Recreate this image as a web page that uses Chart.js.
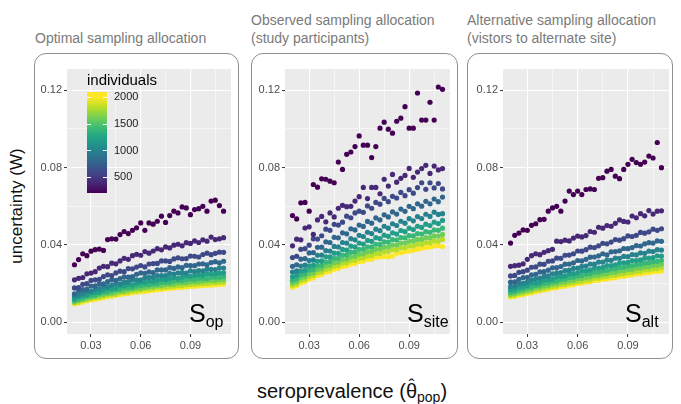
<!DOCTYPE html>
<html>
<head>
<meta charset="utf-8">
<script src="https://cdn.jsdelivr.net/npm/chart.js@4"></script>
<style>
  body { margin: 0; background: #fff; }
  #wrap { position: relative; width: 681px; height: 404px; background: #fff; font-family: "Liberation Sans", Arial, sans-serif; overflow: hidden; }
  .box { position: absolute; border: 1.5px solid #8f8f8f; border-radius: 12px; box-sizing: border-box; }
  .ptitle { position: absolute; font-size: 14px; line-height: 18px; color: #7a7a7a; white-space: nowrap; }
  canvas { position: absolute; }
</style>
</head>
<body>
<div id="wrap">
  <div class="ptitle" style="left:35px; top:29px;">Optimal sampling allocation</div>
  <div class="ptitle" style="left:251px; top:11px;">Observed sampling allocation<br>(study participants)</div>
  <div class="ptitle" style="left:467px; top:11px;">Alternative sampling allocation<br>(vistors to alternate site)</div>

  <div class="box" style="left:34px; top:53px; width:205px; height:306px;"></div>
  <div class="box" style="left:251px; top:53px; width:207px; height:306px;"></div>
  <div class="box" style="left:467px; top:53px; width:206px; height:306px;"></div>

  <canvas id="c1" width="205" height="306" style="left:34px; top:53px;"></canvas>
  <canvas id="c2" width="207" height="306" style="left:251px; top:53px;"></canvas>
  <canvas id="c3" width="206" height="306" style="left:467px; top:53px;"></canvas>

  <div style="position:absolute; left:17px; top:206px; transform:translate(-50%,-50%) rotate(-90deg); font-size:17px; white-space:nowrap; color:#111;">uncertainty (W)</div>
  <div style="position:absolute; left:352px; top:380px; transform:translateX(-50%); font-size:20px; line-height:22px; white-space:nowrap; color:#111;">seroprevalence (<span style="position:relative; display:inline-block;">θ<span style="position:absolute; left:50%; top:-5px; transform:translateX(-50%); font-size:17px;">ˆ</span></span><span style="font-size:14px; position:relative; top:4px;">pop</span>)</div>
</div>

<script>
// seroprevalence grid shared by every series
const xs = [0.02, 0.0225, 0.025, 0.0275, 0.03, 0.0325, 0.035, 0.0375, 0.04, 0.0425,
  0.045, 0.0475, 0.05, 0.0525, 0.055, 0.0575, 0.06, 0.0625, 0.065, 0.0675,
  0.07, 0.0725, 0.075, 0.0775, 0.08, 0.0825, 0.085, 0.0875, 0.09, 0.0925,
  0.095, 0.0975, 0.1, 0.1025, 0.105, 0.1075, 0.11];

const individuals = [200, 400, 600, 800, 1000, 1200, 1400, 1600, 1800, 2000];

// Optimal sampling allocation (S_op)
const op200 = [0.0298, 0.0325, 0.0355, 0.0345, 0.0368, 0.0376, 0.0379, 0.0372, 0.0428, 0.0432, 0.0431, 0.0454, 0.0470, 0.0459, 0.0476, 0.0489, 0.0514, 0.0476, 0.0514, 0.0508, 0.0523, 0.0549, 0.0517, 0.0552, 0.0575, 0.0566, 0.0597, 0.0592, 0.0557, 0.0583, 0.0588, 0.0600, 0.0575, 0.0627, 0.0632, 0.0604, 0.0575];
const op400 = [0.0220, 0.0228, 0.0232, 0.0251, 0.0255, 0.0262, 0.0281, 0.0290, 0.0288, 0.0306, 0.0303, 0.0318, 0.0331, 0.0326, 0.0345, 0.0352, 0.0347, 0.0366, 0.0358, 0.0369, 0.0381, 0.0375, 0.0390, 0.0385, 0.0399, 0.0404, 0.0396, 0.0412, 0.0408, 0.0421, 0.0413, 0.0427, 0.0420, 0.0441, 0.0428, 0.0432, 0.0438];
const op600 = [0.0178, 0.0180, 0.0197, 0.0200, 0.0217, 0.0220, 0.0223, 0.0237, 0.0246, 0.0242, 0.0256, 0.0265, 0.0262, 0.0278, 0.0277, 0.0286, 0.0294, 0.0287, 0.0302, 0.0304, 0.0305, 0.0318, 0.0318, 0.0315, 0.0328, 0.0334, 0.0329, 0.0330, 0.0343, 0.0342, 0.0338, 0.0351, 0.0358, 0.0350, 0.0357, 0.0363, 0.0362];
const op800 = [0.0148, 0.0163, 0.0169, 0.0172, 0.0188, 0.0189, 0.0200, 0.0199, 0.0211, 0.0221, 0.0218, 0.0227, 0.0236, 0.0234, 0.0237, 0.0249, 0.0256, 0.0254, 0.0261, 0.0258, 0.0271, 0.0271, 0.0271, 0.0283, 0.0279, 0.0287, 0.0283, 0.0295, 0.0294, 0.0293, 0.0302, 0.0303, 0.0298, 0.0309, 0.0314, 0.0308, 0.0316];
const op1000 = [0.0137, 0.0140, 0.0151, 0.0160, 0.0160, 0.0172, 0.0175, 0.0186, 0.0185, 0.0193, 0.0201, 0.0199, 0.0209, 0.0210, 0.0220, 0.0220, 0.0220, 0.0231, 0.0233, 0.0233, 0.0242, 0.0242, 0.0242, 0.0253, 0.0250, 0.0256, 0.0258, 0.0255, 0.0266, 0.0263, 0.0268, 0.0266, 0.0275, 0.0274, 0.0273, 0.0282, 0.0281];
const op1200 = [0.0121, 0.0133, 0.0139, 0.0141, 0.0153, 0.0156, 0.0157, 0.0168, 0.0174, 0.0174, 0.0178, 0.0188, 0.0189, 0.0196, 0.0194, 0.0202, 0.0208, 0.0207, 0.0214, 0.0212, 0.0218, 0.0224, 0.0221, 0.0228, 0.0232, 0.0228, 0.0235, 0.0240, 0.0238, 0.0243, 0.0246, 0.0243, 0.0251, 0.0250, 0.0250, 0.0256, 0.0256];
const op1400 = [0.0115, 0.0120, 0.0126, 0.0135, 0.0139, 0.0142, 0.0151, 0.0156, 0.0157, 0.0164, 0.0169, 0.0170, 0.0178, 0.0179, 0.0180, 0.0188, 0.0190, 0.0195, 0.0194, 0.0200, 0.0199, 0.0207, 0.0208, 0.0208, 0.0215, 0.0216, 0.0215, 0.0220, 0.0224, 0.0222, 0.0227, 0.0228, 0.0227, 0.0234, 0.0234, 0.0233, 0.0237];
const op1600 = [0.0106, 0.0115, 0.0118, 0.0126, 0.0130, 0.0134, 0.0142, 0.0144, 0.0150, 0.0151, 0.0157, 0.0162, 0.0162, 0.0169, 0.0172, 0.0177, 0.0176, 0.0181, 0.0185, 0.0185, 0.0191, 0.0191, 0.0196, 0.0197, 0.0198, 0.0204, 0.0204, 0.0204, 0.0209, 0.0210, 0.0210, 0.0215, 0.0216, 0.0218, 0.0217, 0.0221, 0.0222];
const op1800 = [0.0101, 0.0105, 0.0114, 0.0117, 0.0123, 0.0129, 0.0130, 0.0136, 0.0141, 0.0143, 0.0146, 0.0153, 0.0155, 0.0157, 0.0163, 0.0163, 0.0168, 0.0172, 0.0172, 0.0176, 0.0180, 0.0179, 0.0183, 0.0186, 0.0187, 0.0190, 0.0190, 0.0195, 0.0196, 0.0197, 0.0200, 0.0201, 0.0201, 0.0205, 0.0205, 0.0208, 0.0208];
const op2000 = [0.0096, 0.0100, 0.0105, 0.0112, 0.0116, 0.0119, 0.0125, 0.0128, 0.0133, 0.0135, 0.0140, 0.0143, 0.0147, 0.0148, 0.0153, 0.0156, 0.0158, 0.0160, 0.0164, 0.0166, 0.0169, 0.0170, 0.0174, 0.0175, 0.0178, 0.0180, 0.0180, 0.0183, 0.0186, 0.0186, 0.0189, 0.0190, 0.0192, 0.0192, 0.0195, 0.0196, 0.0198];

// Observed sampling allocation (S_site)
const site200 = [0.0552, 0.0535, 0.0618, 0.0620, 0.0575, 0.0713, 0.0699, 0.0742, 0.0740, 0.0730, 0.0722, 0.0829, 0.0791, 0.0869, 0.0881, 0.0909, 0.0964, 0.0916, 0.0916, 0.0852, 0.0909, 0.1004, 0.1035, 0.0999, 0.0978, 0.1040, 0.1056, 0.1115, 0.1004, 0.1004, 0.1186, 0.1046, 0.1046, 0.1138, 0.1046, 0.1217, 0.1205];
const site400 = [0.0396, 0.0430, 0.0427, 0.0488, 0.0494, 0.0455, 0.0530, 0.0548, 0.0520, 0.0566, 0.0545, 0.0590, 0.0605, 0.0598, 0.0600, 0.0627, 0.0650, 0.0698, 0.0640, 0.0698, 0.0698, 0.0665, 0.0740, 0.0705, 0.0765, 0.0725, 0.0745, 0.0760, 0.0796, 0.0750, 0.0777, 0.0795, 0.0812, 0.0770, 0.0808, 0.0788, 0.0795];
const site600 = [0.0335, 0.0342, 0.0378, 0.0381, 0.0399, 0.0432, 0.0431, 0.0448, 0.0482, 0.0476, 0.0507, 0.0503, 0.0518, 0.0549, 0.0541, 0.0566, 0.0575, 0.0569, 0.0602, 0.0590, 0.0620, 0.0611, 0.0641, 0.0624, 0.0652, 0.0643, 0.0672, 0.0655, 0.0686, 0.0668, 0.0697, 0.0722, 0.0688, 0.0722, 0.0695, 0.0718, 0.0690];
const site800 = [0.0290, 0.0298, 0.0327, 0.0330, 0.0359, 0.0361, 0.0388, 0.0389, 0.0416, 0.0413, 0.0440, 0.0437, 0.0463, 0.0458, 0.0484, 0.0478, 0.0503, 0.0496, 0.0522, 0.0513, 0.0540, 0.0530, 0.0556, 0.0545, 0.0571, 0.0560, 0.0586, 0.0574, 0.0600, 0.0588, 0.0613, 0.0601, 0.0626, 0.0613, 0.0638, 0.0624, 0.0648];
const site1000 = [0.0260, 0.0266, 0.0291, 0.0296, 0.0320, 0.0323, 0.0347, 0.0348, 0.0371, 0.0369, 0.0393, 0.0390, 0.0413, 0.0410, 0.0433, 0.0427, 0.0450, 0.0444, 0.0466, 0.0459, 0.0482, 0.0474, 0.0497, 0.0487, 0.0510, 0.0501, 0.0523, 0.0513, 0.0536, 0.0525, 0.0547, 0.0537, 0.0559, 0.0548, 0.0570, 0.0558, 0.0562];
const site1200 = [0.0236, 0.0244, 0.0265, 0.0270, 0.0292, 0.0296, 0.0316, 0.0318, 0.0339, 0.0339, 0.0358, 0.0357, 0.0377, 0.0374, 0.0394, 0.0390, 0.0410, 0.0405, 0.0424, 0.0419, 0.0438, 0.0433, 0.0451, 0.0445, 0.0463, 0.0457, 0.0475, 0.0469, 0.0487, 0.0480, 0.0497, 0.0491, 0.0508, 0.0501, 0.0518, 0.0511, 0.0527];
const site1400 = [0.0218, 0.0226, 0.0246, 0.0251, 0.0270, 0.0274, 0.0292, 0.0295, 0.0312, 0.0315, 0.0331, 0.0332, 0.0348, 0.0349, 0.0363, 0.0364, 0.0378, 0.0378, 0.0391, 0.0391, 0.0404, 0.0403, 0.0416, 0.0415, 0.0428, 0.0426, 0.0439, 0.0437, 0.0449, 0.0447, 0.0459, 0.0457, 0.0469, 0.0466, 0.0478, 0.0476, 0.0487];
const site1600 = [0.0204, 0.0212, 0.0230, 0.0236, 0.0252, 0.0257, 0.0273, 0.0277, 0.0292, 0.0295, 0.0309, 0.0312, 0.0325, 0.0327, 0.0339, 0.0341, 0.0353, 0.0354, 0.0366, 0.0367, 0.0378, 0.0379, 0.0389, 0.0390, 0.0400, 0.0400, 0.0410, 0.0410, 0.0420, 0.0420, 0.0429, 0.0429, 0.0438, 0.0438, 0.0447, 0.0446, 0.0455];
const site1800 = [0.0192, 0.0199, 0.0216, 0.0222, 0.0237, 0.0242, 0.0257, 0.0261, 0.0274, 0.0278, 0.0291, 0.0293, 0.0306, 0.0308, 0.0319, 0.0321, 0.0332, 0.0333, 0.0344, 0.0345, 0.0356, 0.0356, 0.0366, 0.0366, 0.0376, 0.0376, 0.0386, 0.0386, 0.0395, 0.0395, 0.0404, 0.0403, 0.0413, 0.0412, 0.0421, 0.0420, 0.0429];
const site2000 = [0.0182, 0.0189, 0.0204, 0.0210, 0.0224, 0.0230, 0.0243, 0.0247, 0.0260, 0.0263, 0.0275, 0.0278, 0.0289, 0.0292, 0.0302, 0.0305, 0.0315, 0.0316, 0.0326, 0.0327, 0.0337, 0.0338, 0.0341, 0.0340, 0.0343, 0.0357, 0.0360, 0.0366, 0.0369, 0.0374, 0.0378, 0.0383, 0.0387, 0.0390, 0.0394, 0.0398, 0.0392];

// Alternative sampling allocation (S_alt)
const alt200 = [0.0410, 0.0450, 0.0462, 0.0478, 0.0476, 0.0502, 0.0510, 0.0531, 0.0533, 0.0575, 0.0592, 0.0600, 0.0575, 0.0627, 0.0679, 0.0661, 0.0679, 0.0661, 0.0687, 0.0690, 0.0687, 0.0745, 0.0748, 0.0782, 0.0791, 0.0756, 0.0743, 0.0791, 0.0817, 0.0843, 0.0826, 0.0817, 0.0829, 0.0860, 0.0850, 0.0930, 0.0800];
const alt400 = [0.0290, 0.0293, 0.0296, 0.0303, 0.0326, 0.0345, 0.0355, 0.0350, 0.0362, 0.0371, 0.0378, 0.0420, 0.0418, 0.0425, 0.0421, 0.0436, 0.0446, 0.0442, 0.0449, 0.0470, 0.0466, 0.0492, 0.0487, 0.0501, 0.0497, 0.0512, 0.0530, 0.0522, 0.0519, 0.0550, 0.0541, 0.0562, 0.0551, 0.0578, 0.0560, 0.0575, 0.0577];
const alt600 = [0.0240, 0.0243, 0.0259, 0.0262, 0.0270, 0.0285, 0.0287, 0.0301, 0.0300, 0.0316, 0.0318, 0.0332, 0.0331, 0.0347, 0.0348, 0.0355, 0.0369, 0.0368, 0.0376, 0.0389, 0.0387, 0.0396, 0.0409, 0.0406, 0.0415, 0.0428, 0.0425, 0.0433, 0.0447, 0.0444, 0.0450, 0.0465, 0.0461, 0.0468, 0.0482, 0.0476, 0.0484];
const alt800 = [0.0208, 0.0210, 0.0223, 0.0232, 0.0233, 0.0246, 0.0249, 0.0261, 0.0262, 0.0270, 0.0282, 0.0283, 0.0289, 0.0301, 0.0302, 0.0308, 0.0320, 0.0318, 0.0326, 0.0337, 0.0338, 0.0344, 0.0355, 0.0349, 0.0365, 0.0366, 0.0370, 0.0382, 0.0381, 0.0387, 0.0397, 0.0395, 0.0406, 0.0412, 0.0410, 0.0421, 0.0419];
const alt1000 = [0.0185, 0.0188, 0.0201, 0.0203, 0.0210, 0.0220, 0.0225, 0.0229, 0.0239, 0.0240, 0.0251, 0.0256, 0.0258, 0.0268, 0.0270, 0.0279, 0.0281, 0.0290, 0.0291, 0.0302, 0.0301, 0.0312, 0.0312, 0.0322, 0.0321, 0.0332, 0.0331, 0.0341, 0.0340, 0.0351, 0.0349, 0.0359, 0.0357, 0.0368, 0.0366, 0.0376, 0.0374];
const alt1200 = [0.0169, 0.0172, 0.0183, 0.0185, 0.0191, 0.0202, 0.0203, 0.0208, 0.0219, 0.0221, 0.0225, 0.0235, 0.0236, 0.0241, 0.0251, 0.0252, 0.0256, 0.0266, 0.0267, 0.0271, 0.0280, 0.0281, 0.0284, 0.0294, 0.0294, 0.0298, 0.0307, 0.0308, 0.0311, 0.0320, 0.0320, 0.0323, 0.0332, 0.0332, 0.0335, 0.0344, 0.0343];
const alt1400 = [0.0156, 0.0160, 0.0169, 0.0172, 0.0180, 0.0183, 0.0191, 0.0194, 0.0202, 0.0204, 0.0212, 0.0214, 0.0222, 0.0224, 0.0232, 0.0233, 0.0241, 0.0242, 0.0250, 0.0252, 0.0259, 0.0260, 0.0267, 0.0269, 0.0276, 0.0277, 0.0284, 0.0285, 0.0292, 0.0293, 0.0299, 0.0300, 0.0307, 0.0308, 0.0314, 0.0315, 0.0321];
const alt1600 = [0.0146, 0.0150, 0.0158, 0.0161, 0.0168, 0.0171, 0.0179, 0.0181, 0.0188, 0.0191, 0.0198, 0.0200, 0.0208, 0.0210, 0.0216, 0.0218, 0.0226, 0.0227, 0.0233, 0.0235, 0.0243, 0.0244, 0.0250, 0.0251, 0.0258, 0.0259, 0.0266, 0.0267, 0.0273, 0.0274, 0.0281, 0.0281, 0.0287, 0.0288, 0.0294, 0.0295, 0.0301];
const alt1800 = [0.0138, 0.0141, 0.0149, 0.0151, 0.0158, 0.0161, 0.0169, 0.0170, 0.0177, 0.0180, 0.0186, 0.0188, 0.0196, 0.0197, 0.0203, 0.0205, 0.0212, 0.0213, 0.0219, 0.0221, 0.0228, 0.0229, 0.0235, 0.0236, 0.0243, 0.0244, 0.0249, 0.0251, 0.0257, 0.0258, 0.0263, 0.0264, 0.0271, 0.0271, 0.0276, 0.0277, 0.0283];
const alt2000 = [0.0131, 0.0134, 0.0141, 0.0143, 0.0150, 0.0153, 0.0159, 0.0162, 0.0168, 0.0171, 0.0177, 0.0179, 0.0185, 0.0187, 0.0193, 0.0195, 0.0201, 0.0203, 0.0208, 0.0210, 0.0216, 0.0217, 0.0223, 0.0224, 0.0230, 0.0231, 0.0237, 0.0238, 0.0243, 0.0245, 0.0250, 0.0251, 0.0256, 0.0257, 0.0262, 0.0263, 0.0266];

const yTicks = [0, 0.02, 0.04, 0.06, 0.08, 0.10, 0.12];
const xTicks = [0.03, 0.045, 0.06, 0.075, 0.09, 0.105];
const legendTicks = [500, 1000, 1500, 2000];

// viridis stops
const viridisStops = ['#440154', '#482475', '#414487', '#355f8d', '#2a788e', '#21918c',
  '#22a884', '#44bf70', '#7ad151', '#bddf26', '#fde725'];

function hexRgb(h) {
  return [parseInt(h.slice(1, 3), 16), parseInt(h.slice(3, 5), 16), parseInt(h.slice(5, 7), 16)];
}
function viridis(t) {
  t = Math.max(0, Math.min(1, t));
  const p = t * (viridisStops.length - 1);
  const i = Math.min(Math.floor(p), viridisStops.length - 2);
  const f = p - i;
  const a = hexRgb(viridisStops[i]), b = hexRgb(viridisStops[i + 1]);
  const c = a.map((v, k) => Math.round(v + (b[k] - v) * f));
  return 'rgb(' + c.join(',') + ')';
}

const nMin = 200, nMax = 2000, barMax = 2100;
const isMajor = (v, step) => Math.abs(v / step - Math.round(v / step)) < 1e-6;

const decor = {
  id: 'decor',
  beforeDraw(chart, args, opts) {
    const { ctx, chartArea: a } = chart;
    ctx.save();
    ctx.fillStyle = '#ebebeb';
    ctx.fillRect(a.left, a.top, a.right - a.left, a.bottom - a.top);
    ctx.restore();
  },
  afterDatasetsDraw(chart, args, opts) {
    const { ctx, chartArea: a } = chart;
    ctx.save();
    // S label
    ctx.fillStyle = '#000';
    ctx.textBaseline = 'alphabetic';
    ctx.font = '25px "Liberation Sans", Arial, sans-serif';
    const sx = a.left + 122;
    ctx.fillText('S', sx, a.bottom - 12);
    const sw = ctx.measureText('S').width;
    ctx.font = '16px "Liberation Sans", Arial, sans-serif';
    ctx.fillText(opts.sub, sx + sw, a.bottom - 7);

    if (opts.legend) {
      const bx = a.left + 20, by = a.top + 23, bw = 20, bh = 101;
      const valY = v => by + bh - (v - nMin) / (barMax - nMin) * bh;
      const g = ctx.createLinearGradient(0, by + bh, 0, by);
      for (let k = 0; k <= 20; k++) {
        const v = nMin + (barMax - nMin) * k / 20;
        g.addColorStop(k / 20, viridis((v - nMin) / (nMax - nMin)));
      }
      ctx.fillStyle = g;
      ctx.fillRect(bx, by, bw, bh);
      ctx.strokeStyle = '#fff';
      ctx.lineWidth = 1;
      ctx.font = '11px "Liberation Sans", Arial, sans-serif';
      ctx.textBaseline = 'middle';
      ctx.textAlign = 'left';
      legendTicks.forEach(v => {
        const y = Math.round(valY(v)) + 0.5;
        ctx.beginPath();
        ctx.moveTo(bx, y); ctx.lineTo(bx + 4, y);
        ctx.moveTo(bx + bw - 4, y); ctx.lineTo(bx + bw, y);
        ctx.stroke();
        ctx.fillStyle = '#1a1a1a';
        ctx.fillText(String(v), bx + bw + 7, valY(v));
      });
      ctx.fillStyle = '#000';
      ctx.textBaseline = 'alphabetic';
      ctx.font = '15px "Liberation Sans", Arial, sans-serif';
      ctx.fillText('individuals', bx, a.top + 16);
    }
    ctx.restore();
  }
};

function makePanel(id, series, sub, axisW, padR, legend) {
  const datasets = individuals.map((n, i) => ({
    label: String(n),
    data: xs.map((x, j) => ({ x: x, y: series[i][j] })),
    backgroundColor: viridis((n - nMin) / (nMax - nMin)),
    borderWidth: 0,
    pointRadius: 2.6,
    pointHoverRadius: 2.6
  }));

  const tickFont = { family: '"Liberation Sans", Arial, sans-serif', size: 11 };

  return new Chart(document.getElementById(id), {
    type: 'scatter',
    data: { datasets: datasets },
    options: {
      responsive: false,
      animation: false,
      devicePixelRatio: 1,
      events: [],
      layout: { padding: { left: 0, right: padR, top: 16, bottom: 0 } },
      plugins: {
        legend: { display: false },
        tooltip: { enabled: false },
        decor: { sub: sub, legend: legend }
      },
      scales: {
        x: {
          type: 'linear',
          min: 0.0155,
          max: 0.1145,
          afterBuildTicks: s => { s.ticks = xTicks.map(v => ({ value: v })); },
          afterFit: s => { s.height = 25; },
          border: { display: false },
          grid: {
            color: '#ffffff',
            lineWidth: c => (c.tick && isMajor(c.tick.value, 0.03)) ? 1.1 : 0.5,
            tickColor: c => (c.tick && isMajor(c.tick.value, 0.03)) ? '#333333' : 'rgba(0,0,0,0)',
            tickLength: 3,
            tickWidth: 1
          },
          ticks: {
            autoSkip: false,
            maxRotation: 0,
            padding: 2,
            color: '#4d4d4d',
            font: tickFont,
            callback: v => isMajor(v, 0.03) ? v.toFixed(2) : ''
          }
        },
        y: {
          type: 'linear',
          min: -0.006,
          max: 0.131,
          afterBuildTicks: s => { s.ticks = yTicks.map(v => ({ value: v })); },
          afterFit: s => { s.width = axisW; },
          border: { display: false },
          grid: {
            color: '#ffffff',
            lineWidth: c => (c.tick && isMajor(c.tick.value, 0.04)) ? 1.1 : 0.5,
            tickColor: c => (c.tick && isMajor(c.tick.value, 0.04)) ? '#333333' : 'rgba(0,0,0,0)',
            tickLength: 3,
            tickWidth: 1
          },
          ticks: {
            padding: 2,
            color: '#4d4d4d',
            font: tickFont,
            callback: v => isMajor(v, 0.04) ? v.toFixed(2) : ''
          }
        }
      }
    },
    plugins: [decor]
  });
}

makePanel('c1', [op200, op400, op600, op800, op1000, op1200, op1400, op1600, op1800, op2000], 'op', 33, 8, true);
makePanel('c2', [site200, site400, site600, site800, site1000, site1200, site1400, site1600, site1800, site2000], 'site', 34, 8, false);
makePanel('c3', [alt200, alt400, alt600, alt800, alt1000, alt1200, alt1400, alt1600, alt1800, alt2000], 'alt', 36, 4, false);
</script>
</body>
</html>
